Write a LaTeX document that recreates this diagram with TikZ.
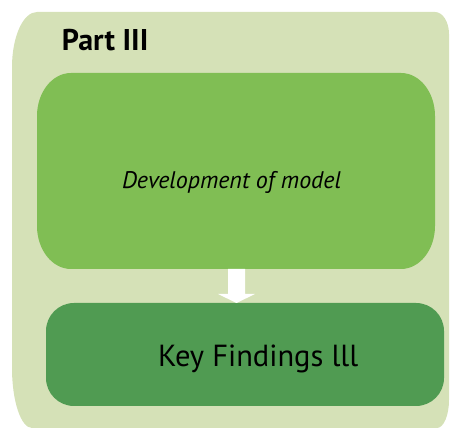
\documentclass[tikz,border=0pt]{standalone}
\usepackage{fontspec}
\setmainfont{PT Sans}
\usetikzlibrary{calc}
\definecolor{outerbg}{RGB}{213,225,183}
\definecolor{topbox}{RGB}{128,190,84}
\definecolor{botbox}{RGB}{80,155,82}
\tikzset{
  lbl/.style={inner sep=0pt, outer sep=0pt, text=black},
}
\begin{document}
\begin{tikzpicture}[x=1pt,y=1pt]
\useasboundingbox (0,0) rectangle (451,428);
% outer panel
\fill[outerbg] (37,416) -- (435,416)
  arc[start angle=90,end angle=0,x radius=14,y radius=22] -- (449,28)
  arc[start angle=0,end angle=-90,x radius=12,y radius=28] -- (32,0)
  arc[start angle=270,end angle=180,x radius=20,y radius=60] -- (12,361)
  arc[start angle=180,end angle=90,x radius=25,y radius=55] -- cycle;
% top box
\fill[topbox] (71,355) -- (401,355)
  arc[start angle=90,end angle=0,x radius=34,y radius=43] -- (435,202)
  arc[start angle=0,end angle=-90,x radius=34,y radius=43] -- (71,159)
  arc[start angle=270,end angle=180,x radius=34,y radius=43] -- (37,312)
  arc[start angle=180,end angle=90,x radius=34,y radius=43] -- cycle;
\coordinate (topS) at (236.5,159);
% bottom box
\fill[botbox, rounded corners=28pt] (46,22) rectangle (444,125);
\coordinate (botN) at (236.5,125);
% arrow
\fill[white] ($(topS)+(-8.5,0)$) -- ($(topS)+(8.5,0)$) -- ($(topS)+(8.5,-25)$) -- ($(topS)+(18.5,-25)$)
  -- (botN) -- ($(topS)+(-18.5,-25)$) -- ($(topS)+(-8.5,-25)$) -- cycle;
% texts
\node[lbl, anchor=base west, font=\bfseries\fontsize{30}{36}\selectfont] (title) at (62,377) {Part III};
\node[lbl, anchor=base west, font=\itshape\fontsize{24}{29}\selectfont] (dev) at (122,239.7) {Development of model};
\node[lbl, anchor=base west, font=\fontsize{30.5}{36}\selectfont] (key) at (158,61.3) {Key Findings lll};
\end{tikzpicture}
\end{document}
